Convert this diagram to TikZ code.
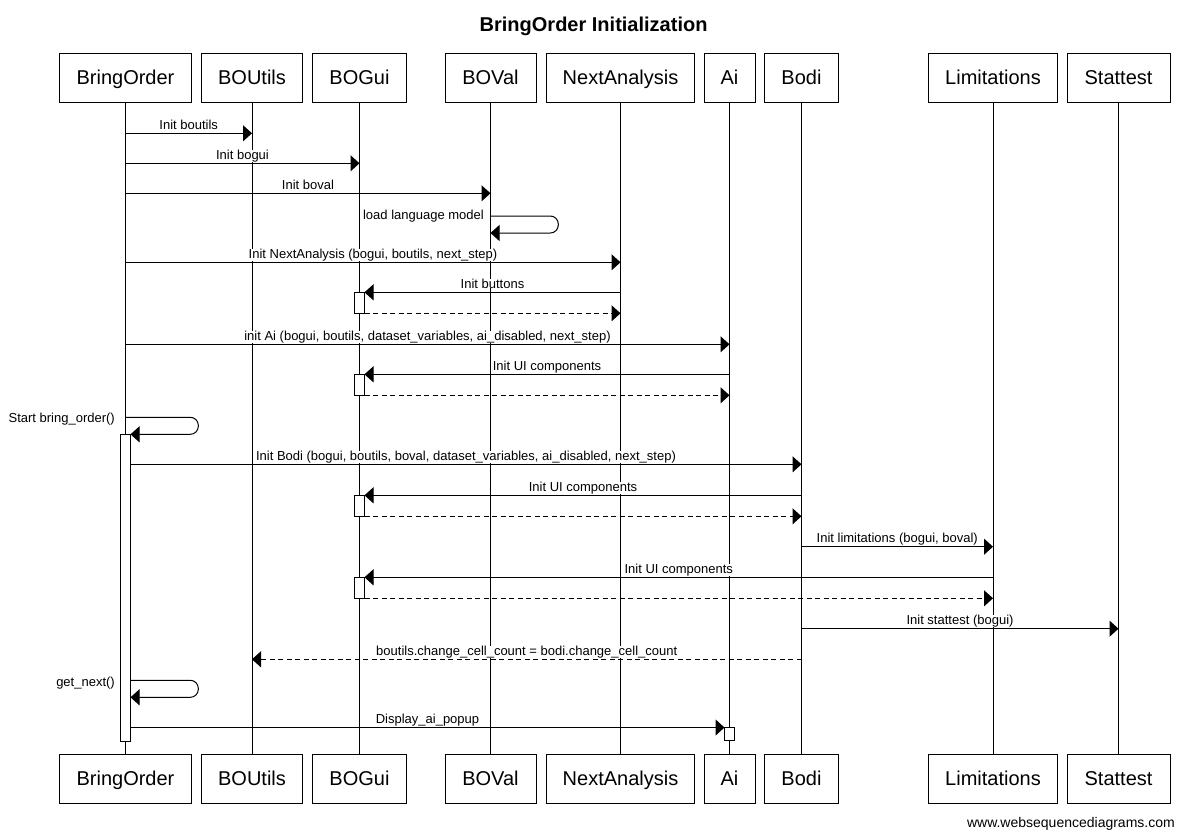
\documentclass[tikz,border=0pt]{standalone}
\usepackage{fontspec}
\setmainfont{Liberation Sans}
\usetikzlibrary{arrows.meta}
\begin{document}
\begin{tikzpicture}[x=1pt,y=-1pt,
  part/.style={draw, line width=1pt, minimum height=49pt, inner sep=0pt,
    text height=14.3pt, text depth=0pt, font=\fontsize{20}{24}\selectfont},
  life/.style={line width=1pt},
  msg/.style={line width=1pt, -{Triangle[length=9pt,width=16pt]}},
  ret/.style={msg, dash pattern=on 5pt off 3.5pt},
  lbl/.style={font=\fontsize{13}{15}\selectfont, inner sep=0pt, fill=white, anchor=base, yshift=4pt},
  slbl/.style={font=\fontsize{13}{15}\selectfont, inner sep=0pt, anchor=base east},
  act/.style={draw, fill=white, line width=1pt},
]
\fill[white] (0,0) rectangle (1185,838);
\useasboundingbox (0,0) rectangle (1185,838);

% title
\node[anchor=base, font=\fontsize{20}{24}\selectfont\bfseries] (title) at (593.6,31) {BringOrder Initialization};

% participants (top)
\node[part, minimum width=132.4pt] (tBO) at (125.5,77.8) {BringOrder};
\node[part, minimum width=101.4pt] (tBU) at (252,77.8) {BOUtils};
\node[part, minimum width=94.4pt]  (tBG) at (359.5,77.8) {BOGui};
\node[part, minimum width=91pt]    (tBV) at (490.5,77.8) {BOVal};
\node[part, minimum width=148pt]   (tNA) at (620.5,77.8) {NextAnalysis};
\node[part, minimum width=51pt]    (tAI) at (729.5,77.8) {Ai};
\node[part, minimum width=73.5pt]  (tBD) at (801.5,77.8) {Bodi};
\node[part, minimum width=129pt]   (tLM) at (993,77.8) {Limitations};
\node[part, minimum width=103pt]   (tST) at (1118.5,77.8) {Stattest};

% participants (bottom)
\node[part, minimum width=132.4pt] (bBO) at (125.5,778.8) {BringOrder};
\node[part, minimum width=101.4pt] (bBU) at (252,778.8) {BOUtils};
\node[part, minimum width=94.4pt]  (bBG) at (359.5,778.8) {BOGui};
\node[part, minimum width=91pt]    (bBV) at (490.5,778.8) {BOVal};
\node[part, minimum width=148pt]   (bNA) at (620.5,778.8) {NextAnalysis};
\node[part, minimum width=51pt]    (bAI) at (729.5,778.8) {Ai};
\node[part, minimum width=73.5pt]  (bBD) at (801.5,778.8) {Bodi};
\node[part, minimum width=129pt]   (bLM) at (993,778.8) {Limitations};
\node[part, minimum width=103pt]   (bST) at (1118.5,778.8) {Stattest};

% lifelines
\foreach \p in {BO,BU,BG,BV,NA,AI,BD,LM,ST}
  \draw[life] (t\p.south) -- (b\p.north);

% activation boxes
\draw[act] (120.5,434.3) rectangle (130.5,741.3);
\draw[act] (354.5,292.3) rectangle (364.5,313.3);
\draw[act] (354.5,374.3) rectangle (364.5,395.3);
\draw[act] (354.5,495.3) rectangle (364.5,516.3);
\draw[act] (354.5,577.3) rectangle (364.5,598.3);
\draw[act] (724.5,727.5) rectangle (734.5,740.7);

% messages
\draw[msg] (tBO |- 0,133.3) -- (tBU |- 0,133.3) node[lbl, midway] {Init boutils};
\draw[msg] (tBO |- 0,163.3) -- (tBG |- 0,163.3) node[lbl, midway] {Init bogui};
\draw[msg] (tBO |- 0,193.3) -- (tBV |- 0,193.3) node[lbl, midway] {Init boval};

\draw[msg, rounded corners=8pt] (tBV |- 0,216) -- (558.3,216) -- (558.3,233) -- (tBV |- 0,233);
\node[slbl] at (484,219.5) {load language model};

\draw[msg] (tBO |- 0,262.3) -- (tNA |- 0,262.3) node[lbl, midway] {Init NextAnalysis (bogui, boutils, next\_step)};

\draw[msg] (tNA |- 0,292.3) -- (364.5,292.3) node[lbl, midway] {Init buttons};
\draw[ret] (364.5,313.3) -- (tNA |- 0,313.3);

\draw[msg] (tBO |- 0,344.3) -- (tAI |- 0,344.3) node[lbl, midway] {init Ai (bogui, boutils, dataset\_variables, ai\_disabled, next\_step)};

\draw[msg] (tAI |- 0,374.3) -- (364.5,374.3) node[lbl, midway] {Init UI components};
\draw[ret] (364.5,395.3) -- (tAI |- 0,395.3);

\draw[msg, rounded corners=8pt] (tBO |- 0,417.3) -- (198.3,417.3) -- (198.3,434.3) -- (130.5,434.3);
\node[slbl] at (115,422.7) {Start bring\_order()};

\draw[msg] (130.5,464.3) -- (tBD |- 0,464.3) node[lbl, midway] {Init Bodi (bogui, boutils, boval, dataset\_variables, ai\_disabled, next\_step)};

\draw[msg] (tBD |- 0,495.3) -- (364.5,495.3) node[lbl, midway] {Init UI components};
\draw[ret] (364.5,516.3) -- (tBD |- 0,516.3);

\draw[msg] (tBD |- 0,546.7) -- (tLM |- 0,546.7) node[lbl, midway] {Init limitations (bogui, boval)};

\draw[msg] (tLM |- 0,577.3) -- (364.5,577.3) node[lbl, midway] {Init UI components};
\draw[ret] (364.5,598.3) -- (tLM |- 0,598.3);

\draw[msg] (tBD |- 0,628.7) -- (tST |- 0,628.7) node[lbl, midway] {Init stattest (bogui)};

\draw[ret] (tBD |- 0,659.3) -- (tBU |- 0,659.3) node[lbl, midway] {boutils.change\_cell\_count = bodi.change\_cell\_count};

\draw[msg, rounded corners=8pt] (130.5,680.3) -- (198.3,680.3) -- (198.3,697.3) -- (130.5,697.3);
\node[slbl] at (115,686) {get\_next()};

\draw[msg] (130.5,727.5) -- (724.5,727.5) node[lbl, midway] {Display\_ai\_popup};

% footer
\node[anchor=base east, font=\fontsize{14}{16}\selectfont, inner sep=0pt] (foot) at (1175,827.5) {www.websequencediagrams.com};
\end{tikzpicture}
\end{document}
